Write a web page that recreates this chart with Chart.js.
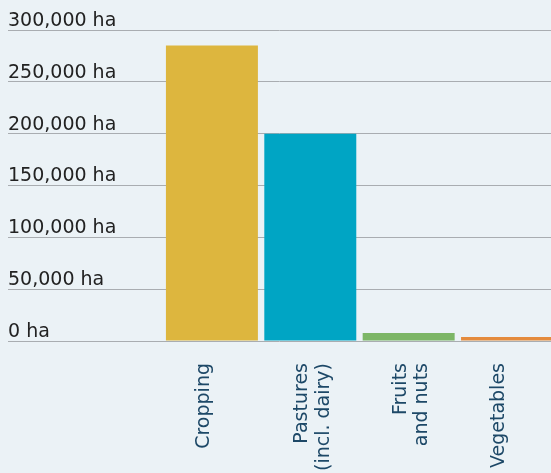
<!DOCTYPE html>
<html>
<head>
<meta charset="utf-8">
<script src="https://cdn.jsdelivr.net/npm/chart.js@4/dist/chart.umd.min.js"></script>
<style>
  html, body { margin: 0; padding: 0; background: #ebf2f6; overflow: hidden; }
  #wrap { position: relative; width: 551px; height: 493px; }
</style>
</head>
<body>
<div id="wrap"><canvas id="landUseChart"></canvas></div>
<script>
// Superficie por tipo de uso agrícola (hectáreas)
const categories = ['Cropping', ['Pastures', '(incl. dairy)'], ['Fruits', 'and nuts'], 'Vegetables'];
const hectares = [285000, 200000, 7700, 3900];
const barColors = ['#ddb63e', '#00a5c4', '#7cb666', '#e48b3d'];
const yTickValues = [0, 50000, 100000, 150000, 200000, 250000, 300000];

const FONT = '"DejaVu Sans", sans-serif';

// Eje x lineal: cada categoría en un entero, con espacio libre a la izquierda
// para que las etiquetas del eje y queden dentro del área de la gráfica
const points = hectares.map((v, i) => ({ x: i, y: v }));

const ctx = document.getElementById('landUseChart');

new Chart(ctx, {
    type: 'bar',
    data: {
        datasets: [{
            data: points,
            backgroundColor: barColors,
            borderWidth: 0,
            barPercentage: 0.935,
            categoryPercentage: 1
        }]
    },
    options: {
        responsive: true,
        maintainAspectRatio: false,
        animation: false,
        layout: {
            padding: { left: 8, right: 0, top: 30, bottom: 0 }
        },
        plugins: {
            legend: { display: false },
            tooltip: { enabled: false }
        },
        scales: {
            x: {
                type: 'linear',
                offset: false,
                min: -2.073,
                max: 3.447,
                afterBuildTicks: (scale) => {
                    scale.ticks = categories.map((c, i) => ({ value: i }));
                },
                grid: { display: false, drawTicks: false },
                border: { display: false },
                ticks: {
                    autoSkip: false,
                    minRotation: 90,
                    maxRotation: 90,
                    padding: 22,
                    labelOffset: -8,
                    color: '#1d4867',
                    font: { family: FONT, size: 19, lineHeight: 1.15 },
                    callback: (value) => categories[value]
                }
            },
            y: {
                min: 0,
                max: 300000,
                afterBuildTicks: (scale) => {
                    scale.ticks = yTickValues.map(v => ({ value: v }));
                },
                grid: {
                    color: '#a9adb1',
                    lineWidth: 1,
                    drawTicks: false
                },
                border: { display: false },
                ticks: {
                    mirror: true,
                    padding: 0,
                    labelOffset: -9,
                    color: '#222222',
                    font: { family: FONT, size: 19 },
                    callback: (value) => value.toLocaleString('en-US') + ' ha'
                }
            }
        }
    }
});
</script>
</body>
</html>
